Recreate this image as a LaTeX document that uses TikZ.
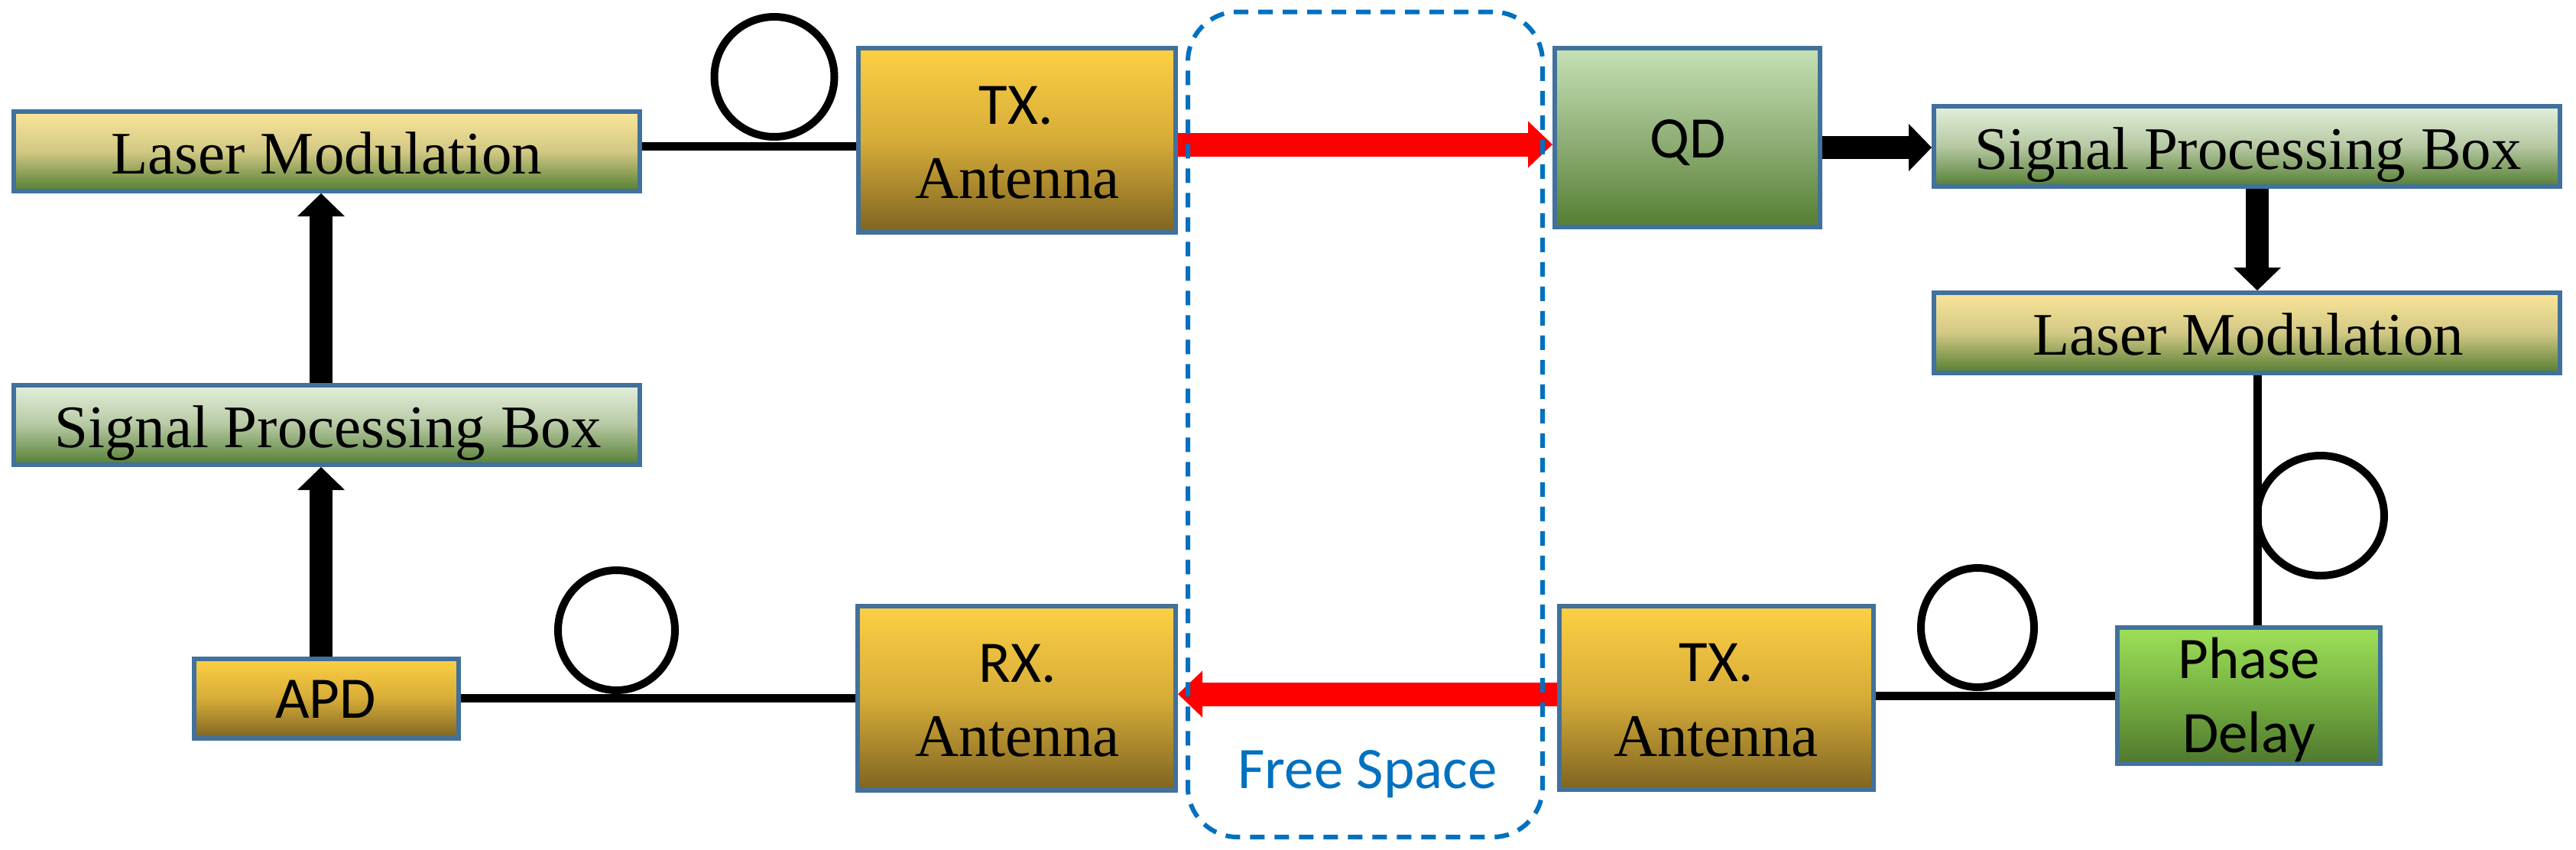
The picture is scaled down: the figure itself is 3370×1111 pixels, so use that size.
\documentclass[tikz,border=0pt]{standalone}
\usepackage{fontspec}
\setmainfont{Liberation Serif}
\newfontfamily\calib{Carlito}
\usetikzlibrary{arrows.meta}
\definecolor{bordc}{RGB}{65,113,156}
\definecolor{fsblue}{RGB}{0,112,192}
\definecolor{arrred}{RGB}{255,0,0}
\definecolor{lmtop}{RGB}{251,230,154}
\definecolor{lmmid}{RGB}{210,200,132}
\definecolor{lmbot}{RGB}{84,126,50}
\definecolor{sptop}{RGB}{227,240,220}
\definecolor{spmid}{RGB}{182,200,162}
\definecolor{spbot}{RGB}{84,126,50}
\definecolor{gdtop}{RGB}{253,208,68}
\definecolor{gdmid}{RGB}{214,172,56}
\definecolor{gdbot}{RGB}{126,100,34}
\definecolor{qdtop}{RGB}{198,225,181}
\definecolor{qdmid}{RGB}{145,176,120}
\definecolor{qdbot}{RGB}{84,126,50}
\definecolor{pdtop}{RGB}{158,224,88}
\definecolor{pdmid}{RGB}{118,176,66}
\definecolor{pdbot}{RGB}{80,120,45}
\begin{document}
\begin{tikzpicture}[x=1pt,y=-1pt,
  box/.style={draw=bordc, line width=6pt, inner sep=0pt, rectangle},
  lmfill/.style={top color=lmtop, bottom color=lmbot, middle color=lmmid},
  spfill/.style={top color=sptop, bottom color=spbot, middle color=spmid},
  gdfill/.style={top color=gdtop, bottom color=gdbot, middle color=gdmid},
  qdfill/.style={top color=qdtop, bottom color=qdbot, middle color=qdmid},
  pdfill/.style={top color=pdtop, bottom color=pdbot, middle color=pdmid},
  serif/.style={font=\fontsize{79}{95}\selectfont, inner sep=0pt, anchor=base},
  sans/.style={font=\calib\fontsize{77}{95}\selectfont, inner sep=0pt, anchor=base},
  fib/.style={line width=11pt},
  loopst/.style={line width=10pt},
  blkarrow/.style={line width=30pt, -{Triangle[length=30pt,width=62pt,line width=0pt]}},
  redarrow/.style={draw=arrred, line width=31pt, -{Triangle[length=32pt,width=61pt,line width=0pt]}},
  fsbox/.style={draw=fsblue, line width=6pt, dash pattern=on 19pt off 13pt, rounded corners=65pt, inner sep=0pt, rectangle}
]
\useasboundingbox (0,0) rectangle (3370,1111);

% boxes
\node[box, lmfill, minimum width=819pt, minimum height=104pt] (lmL) at (427.5,198) {};
\node[box, spfill, minimum width=819pt, minimum height=104pt] (spL) at (427.5,556) {};
\node[box, gdfill, minimum width=346pt, minimum height=104pt] (apd) at (427,914) {};
\node[box, gdfill, minimum width=415pt, minimum height=241pt] (txL) at (1330,183.5) {};
\node[box, gdfill, minimum width=416pt, minimum height=241pt] (rxL) at (1330,913.5) {};
\node[box, qdfill, minimum width=347pt, minimum height=234pt] (qd) at (2207.5,180) {};
\node[box, spfill, minimum width=819pt, minimum height=105pt] (spR) at (2939.5,191.5) {};
\node[box, lmfill, minimum width=819pt, minimum height=105pt] (lmR) at (2939.5,435.5) {};
\node[box, pdfill, minimum width=344pt, minimum height=178pt] (pd) at (2942,910) {};
\node[box, gdfill, minimum width=411pt, minimum height=240pt] (txR) at (2245.5,913) {};

% texts
\node[serif] (lmLt) at (427.5,227) {Laser Modulation};
\node[serif] (spLt) at (429,585) {Signal Processing Box};
\node[sans] (apdt) at (426,939) {APD};
\node[sans] (txLa) at (1329,162) {TX.};
\node[serif] (txLb) at (1331,259) {Antenna};
\node[sans] (rxLa) at (1331,892) {RX.};
\node[serif] (rxLb) at (1331,989) {Antenna};
\node[sans] (qdt) at (2208,206) {QD};
\node[serif] (spRt) at (2941,221) {Signal Processing Box};
\node[serif] (lmRt) at (2941,464) {Laser Modulation};
\node[sans] (txRa) at (2245,891) {TX.};
\node[serif] (txRb) at (2245,989) {Antenna};
\node[sans] (pda) at (2942,887) {Phase};
\node[sans] (pdb) at (2942,984) {Delay};

% helper coordinates
\coordinate (yA) at (0,191);
\coordinate (yB) at (0,913);
\coordinate (yC) at (0,910);
\coordinate (xV) at (2953,0);
\coordinate (xL) at (420,0);
\coordinate (yRt) at (0,189);
\coordinate (yRb) at (0,908);
\coordinate (yK) at (0,193);

% fibres with loops
\draw[fib] (lmL.east |- yA) -- (txL.west |- yA);
\draw[loopst] (1013,100.5) circle[radius=78.5pt];
\draw[fib] (apd.east |- yB) -- (rxL.west |- yB);
\draw[loopst] (806.5,824.5) circle[x radius=76.5pt, y radius=78.5pt];
\draw[fib] (txR.east |- yC) -- (pd.west |- yC);
\draw[loopst] (2587,821) circle[x radius=74pt, y radius=78pt];
\draw[fib] (xV |- lmR.south) -- (xV |- pd.north);
\draw[loopst] (3036,674.5) circle[x radius=83pt, y radius=78.5pt];

% black arrows
\draw[blkarrow] (xL |- apd.north) -- (xL |- spL.south);
\draw[blkarrow] (xL |- spL.north) -- (xL |- lmL.south);
\draw[blkarrow] (qd.east |- yK) -- (spR.west |- yK);
\draw[blkarrow] (xV |- spR.south) -- (xV |- lmR.north);

% red free-space arrows
\draw[redarrow] (txL.east |- yRt) -- (qd.west |- yRt);
\draw[redarrow] (txR.west |- yRb) -- (rxL.east |- yRb);

% free space region
\node[fsbox, minimum width=464pt, minimum height=1079.5pt] (fs) at (1786,555.25) {};
\node[sans, text=fsblue] (fst) at (1789,1031) {Free Space};
\end{tikzpicture}
\end{document}
